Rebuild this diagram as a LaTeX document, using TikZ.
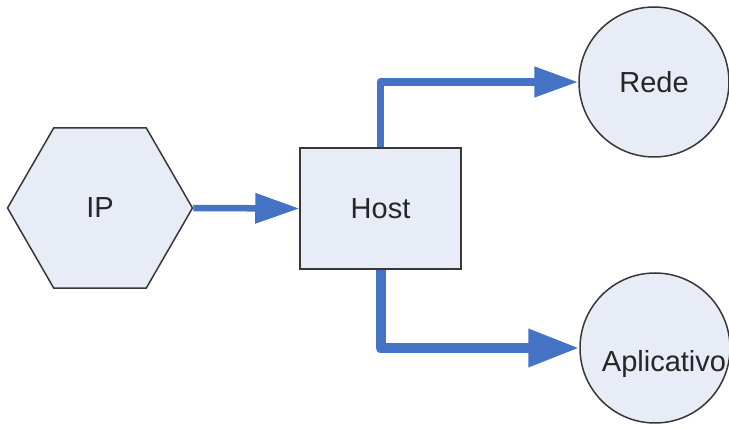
\documentclass[tikz,border=0pt]{standalone}
\usepackage{fontspec}
\setmainfont{Liberation Sans}
\usetikzlibrary{shapes.geometric,arrows.meta}
\definecolor{nodefill}{RGB}{232,236,246}
\definecolor{flow}{RGB}{68,114,196}
\definecolor{edgegray}{RGB}{55,55,55}
\begin{document}
\begin{tikzpicture}[x=1pt,y=-1pt,
  shapebox/.style={draw=edgegray,line width=1.5pt,fill=nodefill,
    font=\fontsize{29}{34}\selectfont,text=black!85,inner sep=0pt},
  labeltext/.style={font=\fontsize{29}{34}\selectfont,text=black!85,inner sep=0pt},
  flowline/.style={draw=flow,line join=round}]
\useasboundingbox (0,0) rectangle (729,430);
\node[shapebox,regular polygon,regular polygon sides=6,minimum size=185pt] (ip) at (100,208) {IP};
\node[shapebox,rectangle,minimum width=161pt,minimum height=121pt] (host) at (380.5,208.5) {Host};
\node[shapebox,circle,minimum size=150pt] (rede) at (654,82) {Rede};
\node[shapebox,circle,minimum size=150pt] (apl) at (655,348) {};
\node[labeltext] (apltext) at (664,364) {Aplicativo};
\draw[flowline,line width=6.5pt,-{Triangle[length=44pt,width=29pt]}] (ip.east) -- (host.west);
\draw[flowline,line width=7.5pt,-{Triangle[length=44pt,width=29pt]}] (host.north) |- (rede.west);
\draw[flowline,line width=10pt,-{Triangle[length=51pt,width=36pt]}] (host.south) |- (apl.west);
\end{tikzpicture}
\end{document}
